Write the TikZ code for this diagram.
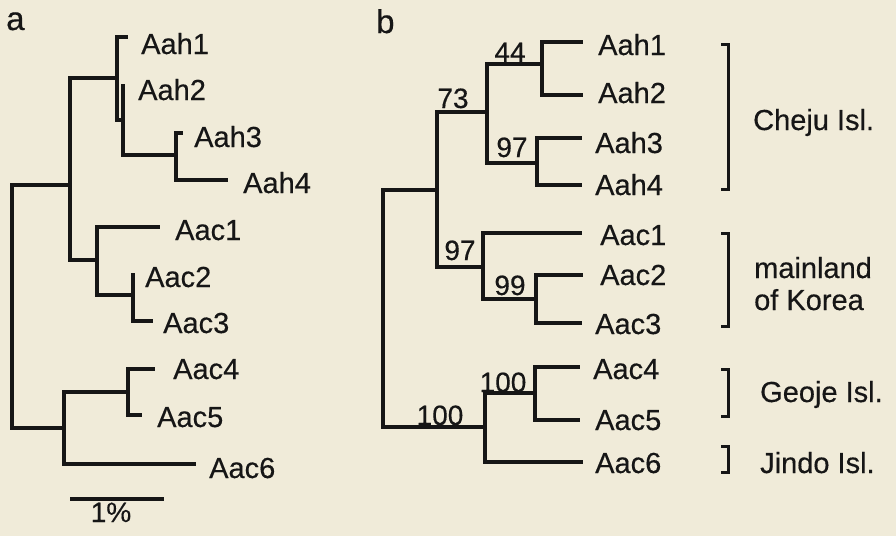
\documentclass[tikz,border=0pt]{standalone}
\usepackage{fontspec}
\setmainfont{Liberation Sans}[FakeBold=0.4]
\definecolor{bgcol}{RGB}{240,235,217}
\definecolor{ink}{RGB}{22,22,22}
\begin{document}
\begin{tikzpicture}[x=1pt,y=-1pt,
  branch/.style={draw=ink,line width=3.3pt},
  brack/.style={draw=ink,line width=3pt},
  tiplab/.style={anchor=base west,inner sep=0pt,text=ink,font=\fontsize{29}{34}\selectfont},
  boot/.style={anchor=base,inner sep=0pt,text=ink,font=\fontsize{28}{34}\selectfont},
  panel/.style={anchor=base west,inner sep=0pt,text=ink,font=\fontsize{33}{38}\selectfont},
  grp/.style={anchor=base west,inner sep=0pt,text=ink,font=\fontsize{29}{34}\selectfont,align=left}]
\fill[bgcol] (0,0) rectangle (896,536);
\useasboundingbox (0,0) rectangle (896,536);

% ---------- panel a ----------
\node[panel] (la) at (6,30) {a};
\coordinate (a0) at (12,300);
\coordinate (a1) at (70,185);
\coordinate (a2) at (117,78);
\coordinate (a3) at (123,120);
\coordinate (a4) at (176,155);
\coordinate (a5) at (97,260);
\coordinate (a6) at (133,295);
\coordinate (a7) at (64,428);
\coordinate (a8) at (128,392);
\coordinate (ta1) at (128,37);
\coordinate (ta2) at (123,84);
\coordinate (ta3) at (183,133);
\coordinate (ta4) at (228,180);
\coordinate (tc1) at (160,227);
\coordinate (tc2) at (133,273);
\coordinate (tc3) at (153,321);
\coordinate (tc4) at (155,369);
\coordinate (tc5) at (142,415);
\coordinate (tc6) at (196,464);
\draw[branch] (a0) |- (a1);
\draw[branch] (a0) |- (a7);
\draw[branch] (a1) |- (a2);
\draw[branch] (a1) |- (a5);
\draw[branch] (a2) |- (ta1);
\draw[branch] (a2) |- (a3);
\draw[branch] (a3) |- (ta2);
\draw[branch] (a3) |- (a4);
\draw[branch] (a4) |- (ta3);
\draw[branch] (a4) |- (ta4);
\draw[branch] (a5) |- (tc1);
\draw[branch] (a5) |- (a6);
\draw[branch] (a6) |- (tc2);
\draw[branch] (a6) |- (tc3);
\draw[branch] (a7) |- (a8);
\draw[branch] (a7) |- (tc6);
\draw[branch] (a8) |- (tc4);
\draw[branch] (a8) |- (tc5);
\node[tiplab] (La1) at (141,54) {Aah1};
\node[tiplab] (La2) at (138,100) {Aah2};
\node[tiplab] (La3) at (194,147) {Aah3};
\node[tiplab] (La4) at (243,193) {Aah4};
\node[tiplab] (Lc1) at (175,240) {Aac1};
\node[tiplab] (Lc2) at (145,287) {Aac2};
\node[tiplab] (Lc3) at (163,333) {Aac3};
\node[tiplab] (Lc4) at (173,379) {Aac4};
\node[tiplab] (Lc5) at (157,427) {Aac5};
\node[tiplab] (Lc6) at (209,478) {Aac6};
% scale bar
\coordinate (sb1) at (70,499);
\coordinate (sb2) at (164,499);
\draw[branch] (sb1) -- (sb2);
\node[boot] (sbl) at (111,522) {1\%};

% ---------- panel b ----------
\node[panel] (lb) at (376,33) {b};
\coordinate (b0) at (383,300);
\coordinate (b1) at (437,190);
\coordinate (b2) at (487,112);
\coordinate (b3) at (542,64);
\coordinate (b4) at (537,163);
\coordinate (b5) at (483,267);
\coordinate (b6) at (536,299);
\coordinate (b7) at (485,427);
\coordinate (b8) at (535,393);
\coordinate (ua1) at (583,42);
\coordinate (ua2) at (583,95);
\coordinate (ua3) at (582,138);
\coordinate (ua4) at (582,185);
\coordinate (uc1) at (582,233);
\coordinate (uc2) at (583,275);
\coordinate (uc3) at (582,323);
\coordinate (uc4) at (580,367);
\coordinate (uc5) at (580,420);
\coordinate (uc6) at (583,462);
\draw[branch] (b0) |- (b1);
\draw[branch] (b0) |- (b7);
\draw[branch] (b1) |- (b2);
\draw[branch] (b1) |- (b5);
\draw[branch] (b2) |- (b3);
\draw[branch] (b2) |- (b4);
\draw[branch] (b3) |- (ua1);
\draw[branch] (b3) |- (ua2);
\draw[branch] (b4) |- (ua3);
\draw[branch] (b4) |- (ua4);
\draw[branch] (b5) |- (uc1);
\draw[branch] (b5) |- (b6);
\draw[branch] (b6) |- (uc2);
\draw[branch] (b6) |- (uc3);
\draw[branch] (b7) |- (b8);
\draw[branch] (b7) |- (uc6);
\draw[branch] (b8) |- (uc4);
\draw[branch] (b8) |- (uc5);
\node[tiplab] (Ma1) at (598,55) {Aah1};
\node[tiplab] (Ma2) at (598,103) {Aah2};
\node[tiplab] (Ma3) at (595,153) {Aah3};
\node[tiplab] (Ma4) at (595,195) {Aah4};
\node[tiplab] (Mc1) at (600,245) {Aac1};
\node[tiplab] (Mc2) at (600,285) {Aac2};
\node[tiplab] (Mc3) at (595,334) {Aac3};
\node[tiplab] (Mc4) at (593,379) {Aac4};
\node[tiplab] (Mc5) at (595,430) {Aac5};
\node[tiplab] (Mc6) at (595,473) {Aac6};
% bootstrap values
\node[boot] (v44) at (510,62) {44};
\node[boot] (v73) at (453,108) {73};
\node[boot] (v97a) at (512,157) {97};
\node[boot] (v97b) at (460,260) {97};
\node[boot] (v99) at (510,295) {99};
\node[boot] (v100a) at (503,392) {100};
\node[boot] (v100b) at (440,425) {100};

% ---------- group brackets ----------
\coordinate (g1t) at (728,44);  \coordinate (g1b) at (728,189);
\coordinate (g2t) at (728,233); \coordinate (g2b) at (728,326);
\coordinate (g3t) at (728,369); \coordinate (g3b) at (728,416);
\coordinate (g4t) at (728,446); \coordinate (g4b) at (728,472);
\draw[brack] ([xshift=-7pt]g1t) -- (g1t) -- (g1b) -- ([xshift=-7pt]g1b);
\draw[brack] ([xshift=-7pt]g2t) -- (g2t) -- (g2b) -- ([xshift=-7pt]g2b);
\draw[brack] ([xshift=-7pt]g3t) -- (g3t) -- (g3b) -- ([xshift=-7pt]g3b);
\draw[brack] ([xshift=-7pt]g4t) -- (g4t) -- (g4b) -- ([xshift=-7pt]g4b);
\node[grp] (G1) at (753,130) {Cheju Isl.};
\node[grp] (G2a) at (754,278) {mainland};
\node[grp] (G2b) at (754,310) {of Korea};
\node[grp] (G3) at (760,402) {Geoje Isl.};
\node[grp] (G4) at (760,473) {Jindo Isl.};
\end{tikzpicture}
\end{document}
